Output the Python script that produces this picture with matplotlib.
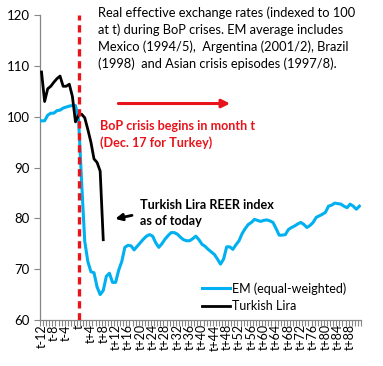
import numpy as np
import matplotlib
matplotlib.use("Agg")
import matplotlib.pyplot as plt

plt.rcParams['font.family'] = ['Lato', 'DejaVu Sans']

# months relative to crisis start t
months = list(range(-12, 92))
month_labels = ["t" if m == 0 else f"t{m:+d}" for m in months]

# EM (equal-weighted) REER, t-12 .. t+91
em_reer = [
    99.2, 99.2, 100.3, 100.7, 100.7, 101.2, 101.3, 101.7, 101.9, 102.1, 102.2, 102.2,
    99.5, 87.0, 75.5, 71.5, 69.5, 69.3, 66.5, 65.0, 65.8, 68.6, 69.2, 67.4,
    67.4, 69.8, 71.5, 74.3, 74.7, 74.6, 73.8, 74.5, 75.2, 75.9, 76.5, 76.8,
    76.5, 75.2, 74.3, 75.0, 75.9, 76.6, 77.2, 77.2, 76.9, 76.3, 75.8, 75.6,
    75.6, 76.0, 76.5, 75.8, 74.9, 74.5, 73.9, 73.4, 72.9, 72.0, 71.0, 72.0,
    74.4, 74.4, 73.9, 74.8, 75.6, 77.0, 78.0, 78.8, 79.2, 79.8, 79.6, 79.4,
    79.6, 79.7, 79.5, 79.2, 78.0, 76.7, 76.7, 76.8, 77.8, 78.2, 78.5, 78.9,
    79.2, 78.8, 78.2, 78.6, 79.2, 80.2, 80.5, 80.8, 81.2, 82.4, 82.6, 83.0,
    82.9, 82.8, 82.4, 82.1, 82.8, 82.4, 81.8, 82.4,
]

# Turkish Lira REER, t-12 .. t+8
tl_reer = [
    108.8, 103.0, 105.5, 106.0, 106.8, 107.5, 108.0, 106.0, 106.0, 106.4, 104.0, 99.0,
    100.3, 100.5, 99.8, 97.5, 95.0, 91.7, 91.0, 89.3, 75.8,
]

y_ticks = [60, 70, 80, 90, 100, 110, 120]

fig = plt.figure(figsize=(3.83, 3.66), dpi=100)
ax = fig.add_axes([0.1044, 0.1257, 0.838, 0.833])

x_em = np.arange(len(em_reer))
x_tl = np.arange(len(tl_reer))
crisis_idx = months.index(0)

ax.plot(x_em, em_reer, color='#00B0F0', lw=2.2, label='EM (equal-weighted)', zorder=3)
ax.plot(x_tl, tl_reer, color='black', lw=2.0, label='Turkish Lira', zorder=4)
ax.axvline(crisis_idx, color='#E8141B', lw=2.4, ls=(0, (2.2, 1.4)), zorder=5)

ax.set_xlim(-0.5, len(months) - 0.5)
ax.set_ylim(60, 120)
ax.set_yticks(y_ticks)
ax.set_xticks(x_em[::4])
ax.set_xticklabels(month_labels[::4], rotation=90, fontsize=9)
ax.set_xticks(np.arange(-0.5, len(months), 1), minor=True)
ax.tick_params(axis='x', which='major', length=0, pad=3)
ax.tick_params(axis='x', which='minor', length=4, color='#868686', width=0.8)
ax.tick_params(axis='y', length=4, color='#868686', labelsize=9.5, width=0.8)

for side in ['top', 'right']:
    ax.spines[side].set_visible(False)
for side in ['left', 'bottom']:
    ax.spines[side].set_color('#868686')
    ax.spines[side].set_linewidth(0.9)

ax.text(0.181, 1.027,
        "Real effective exchange rates (indexed to 100\n"
        "at t) during BoP crises. EM average includes\n"
        "Mexico (1994/5),  Argentina (2001/2), Brazil\n"
        "(1998)  and Asian crisis episodes (1997/8).",
        transform=ax.transAxes, ha='left', va='top', fontsize=9.3,
        linespacing=1.42, color='black')

ax.annotate("", xy=(62, 102.6), xytext=(24, 102.6),
            arrowprops=dict(arrowstyle='-|>', color='#E8141B', lw=2.2,
                            mutation_scale=12))

ax.text(crisis_idx + 6.8, 96.5, "BoP crisis begins in month t\n(Dec. 17 for Turkey)",
        ha='left', va='center', fontsize=9.1, fontweight='bold',
        color='#E8141B', linespacing=1.4)

ax.text(crisis_idx + 20.0, 81.1, "Turkish Lira REER index\nas of today",
        ha='left', va='center', fontsize=9.1, fontweight='bold',
        color='black', linespacing=1.4)

ax.annotate("", xy=(crisis_idx + 11.0, 79.8), xytext=(crisis_idx + 18.2, 80.7),
            arrowprops=dict(arrowstyle='-|>', color='black', lw=2.0,
                            mutation_scale=10))

ax.legend(loc='lower left', bbox_to_anchor=(0.48, 0.0), frameon=False,
          fontsize=9, handlelength=2.25, handletextpad=0.2, labelspacing=0.45,
          borderaxespad=0.2)

fig.savefig('out.png', dpi=100)
